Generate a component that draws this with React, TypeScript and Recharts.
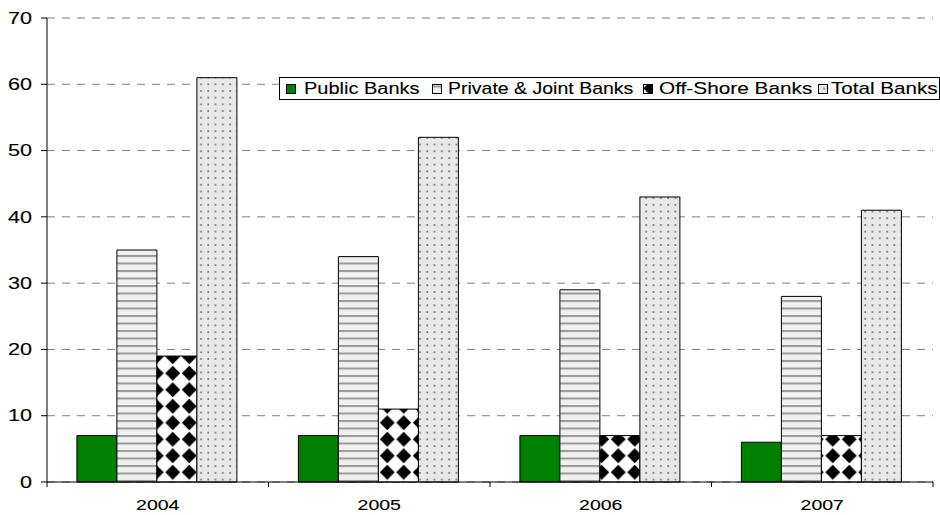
import React from 'react';
import { BarChart, Bar, XAxis, YAxis, CartesianGrid } from 'recharts';

const YEARS = ['2004', '2005', '2006', '2007'];
const PUBLIC_BANKS = [7, 7, 7, 6];
const PRIVATE_BANKS = [35, 34, 29, 28];
const OFFSHORE_BANKS = [19, 11, 7, 7];
const TOTAL_BANKS = [61, 52, 43, 41];
const Y_TICKS = [0, 10, 20, 30, 40, 50, 60, 70];
const SERIES_NAMES = ['Public Banks', 'Private & Joint Banks', 'Off-Shore Banks', 'Total Banks'];
const SERIES_KEYS = ['pub', 'priv', 'off', 'tot'];
const SERIES_FILLS = ['#008000', 'url(#stripes)', 'url(#diamonds)', 'url(#dots)'];

const data = YEARS.map((year, i) => ({
  year,
  pub: PUBLIC_BANKS[i],
  priv: PRIVATE_BANKS[i],
  off: OFFSHORE_BANKS[i],
  tot: TOTAL_BANKS[i],
}));

const FONT = '"Liberation Sans", Arial, sans-serif';

// legend layout (style only)
const LEGEND_SWATCH_X = [6.5, 152.5, 363.5, 538.5];
const LEGEND_TEXT_X = [24, 168, 379, 551];
const LEGEND_TEXT_SCALE = [1.25, 1.22, 1.3, 1.29];

const XTick = (props: any) => {
  const { x, y, payload, index } = props;
  const half = payload && payload.offset ? payload.offset : 110.75;
  return (
    <g>
      <line x1={x - half} x2={x - half} y1={y} y2={y + 5} stroke="#000" />
      {index === YEARS.length - 1 && (
        <line x1={x + half} x2={x + half} y1={y} y2={y + 5} stroke="#000" />
      )}
      <text
        transform={`translate(${x},${y + 28}) scale(1.3,1)`}
        textAnchor="middle"
        fontSize={15}
        fontFamily={FONT}
        fill="#000"
        stroke="#000"
        strokeWidth={0.12}
      >
        {payload.value}
      </text>
    </g>
  );
};

const YTick = (props: any) => {
  const { x, y, payload } = props;
  return (
    <text
      transform={`translate(${x},${y}) scale(1.35,1)`}
      textAnchor="end"
      dy="0.36em"
      fontSize={16}
      fontFamily={FONT}
      fill="#000"
      stroke="#000"
      strokeWidth={0.12}
    >
      {payload.value}
    </text>
  );
};

export default function App() {
  return (
    <div
      style={{
        position: 'absolute',
        left: 0,
        top: 0,
        width: 940,
        height: 515,
        overflow: 'hidden',
        background: '#fff',
        fontFamily: FONT,
      }}
    >
      <svg width={0} height={0} style={{ position: 'absolute' }}>
        <defs>
          <pattern id="stripes" patternUnits="userSpaceOnUse" width={8} height={7.5}>
            <rect x={0} y={0} width={8} height={7.5} fill="#f0f0f0" />
            <rect x={0} y={0} width={8} height={2} fill="#9a9a9a" />
          </pattern>
          <pattern id="diamonds" patternUnits="userSpaceOnUse" width={16.5} height={16.5} x={-0.5} y={2}>
            <rect x={0} y={0} width={16.5} height={16.5} fill="#fff" />
            <polygon points="8.25,0.8 15.7,8.25 8.25,15.7 0.8,8.25" fill="#000" />
          </pattern>
          <pattern id="dots" patternUnits="userSpaceOnUse" width={7.3} height={6.7}>
            <rect x={0} y={0} width={7.3} height={6.7} fill="#e8e8e8" />
            <rect x={3} y={3} width={1.7} height={1.7} fill="#707070" />
          </pattern>
        </defs>
      </svg>
      <BarChart
        width={940}
        height={515}
        data={data}
        margin={{ top: 18, right: 7, bottom: 0, left: 0 }}
        barCategoryGap="13.5%"
        barGap={0}
      >
        <CartesianGrid vertical={false} stroke="#808080" strokeDasharray="8 7" />
        <XAxis
          dataKey="year"
          height={33}
          interval={0}
          tickLine={false}
          tickSize={0}
          tickMargin={0}
          axisLine={{ stroke: '#000' }}
          tick={<XTick />}
        />
        <YAxis
          width={47}
          domain={[0, 70]}
          ticks={Y_TICKS}
          interval={0}
          tickSize={6}
          tickMargin={9}
          axisLine={{ stroke: '#000' }}
          tickLine={{ stroke: '#000' }}
          tick={<YTick />}
        />
        {SERIES_KEYS.map((k, i) => (
          <Bar
            key={k}
            dataKey={k}
            name={SERIES_NAMES[i]}
            fill={SERIES_FILLS[i]}
            stroke="#000"
            strokeWidth={1}
            isAnimationActive={false}
          />
        ))}
      </BarChart>
      <div
        style={{
          position: 'absolute',
          left: 279,
          top: 77,
          width: 661,
          height: 23,
          boxSizing: 'border-box',
          border: '1px solid #000',
          background: '#fff',
        }}
      >
        <svg width={659} height={21} style={{ display: 'block' }}>
          {SERIES_NAMES.map((name, i) => (
            <g key={name}>
              <rect
                x={LEGEND_SWATCH_X[i]}
                y={6.5}
                width={9}
                height={9}
                fill={SERIES_FILLS[i]}
                stroke="#000"
                strokeWidth={1}
              />
              <text
                transform={`translate(${LEGEND_TEXT_X[i]},15.5) scale(${LEGEND_TEXT_SCALE[i]},1)`}
                fontSize={16}
                fontFamily={FONT}
                fill="#000"
                stroke="#000"
                strokeWidth={0.12}
              >
                {name}
              </text>
            </g>
          ))}
        </svg>
      </div>
    </div>
  );
}
